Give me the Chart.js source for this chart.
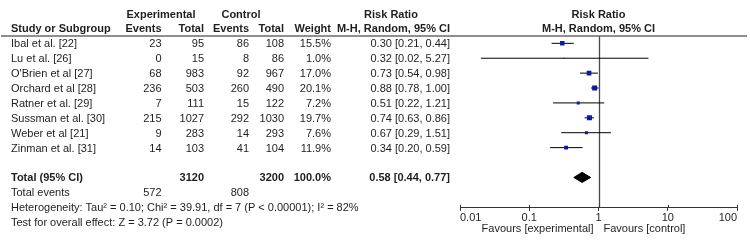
<!DOCTYPE html>
<html><head><meta charset="utf-8">
<script src="https://cdn.jsdelivr.net/npm/chart.js@4/dist/chart.umd.min.js"></script>
<style>html,body{margin:0;padding:0;background:#fff}#c{display:block}</style>
</head><body>
<canvas id="c" width="750" height="241"></canvas>
<script>
const studies = ["Ibal et al. [22]", "Lu et al. [26]", "O'Brien et al [27]", "Orchard et al [28]", "Ratner et al. [29]", "Sussman et al. [30]", "Weber et al [21]", "Zinman et al. [31]"];
const expEvents = [23, 0, 68, 236, 7, 215, 9, 14];
const expTotal = [95, 15, 983, 503, 111, 1027, 283, 103];
const ctrlEvents = [86, 8, 92, 260, 15, 292, 14, 41];
const ctrlTotal = [108, 86, 967, 490, 122, 1030, 293, 104];
const weights = [15.5, 1.0, 17.0, 20.1, 7.2, 19.7, 7.6, 11.9];
const rr = [0.30, 0.32, 0.73, 0.88, 0.51, 0.74, 0.67, 0.34];
const rrLow = [0.21, 0.02, 0.54, 0.78, 0.22, 0.63, 0.29, 0.20];
const rrHigh = [0.44, 5.27, 0.98, 1.00, 1.21, 0.86, 1.51, 0.59];
const totalExp = 3120, totalCtrl = 3200, totalWeight = 100.0;
const totalEventsExp = 572, totalEventsCtrl = 808;
const pooled = 0.58, pooledLow = 0.44, pooledHigh = 0.77;
const xTicks = [0.01, 0.1, 1, 10, 100];
const xTickLabels = ["0.01", "0.1", "1", "10", "100"];
const heterogeneityText = "Heterogeneity: Tau\u00B2 = 0.10; Chi\u00B2 = 39.91, df = 7 (P < 0.00001); I\u00B2 = 82%";
const overallText = "Test for overall effect: Z = 3.72 (P = 0.0002)";

const FONT = "'Liberation Sans', Arial, sans-serif";
const TXT = "#1e1e1e";
const TOTAL_ROW = studies.length + 1;
const Y_MIN = -2.64, Y_MAX = 11.04;
const NULL_EFFECT = 1;
const f2 = v => v.toFixed(2);
const ciText = (e, l, h) => f2(e) + " [" + f2(l) + ", " + f2(h) + "]";

const common = {xAxisID: 'x', yAxisID: 'y', clip: 0};
const datasets = [];
studies.forEach((s, i) => {
  datasets.push(Object.assign({type: 'line', data: [{x: rrLow[i], y: i}, {x: rrHigh[i], y: i}],
    borderColor: '#000', borderWidth: 1, pointRadius: 0, fill: false, order: 2}, common));
});
datasets.push(Object.assign({type: 'scatter', data: rr.map((v, i) => ({x: v, y: i})),
  pointStyle: 'rect', pointRadius: weights.map(w => 0.8 * Math.sqrt(w)),
  backgroundColor: '#0a1c9e', borderWidth: 0, order: 1}, common));
const dh = 0.34;
datasets.push(Object.assign({type: 'line', data: [
  {x: pooledLow, y: TOTAL_ROW}, {x: pooled, y: TOTAL_ROW - dh}, {x: pooledHigh, y: TOTAL_ROW},
  {x: pooled, y: TOTAL_ROW + dh}, {x: pooledLow, y: TOTAL_ROW}],
  borderColor: '#000', borderWidth: 1, backgroundColor: '#000', fill: 'shape', pointRadius: 0, order: 0}, common));

const nullLinePlugin = {
  id: 'nullLine',
  beforeDatasetsDraw(chart) {
    const ctx = chart.ctx, ys = chart.scales.y, xs = chart.scales.x;
    const px = Math.round(xs.getPixelForValue(NULL_EFFECT)) + 0.5;
    ctx.save();
    ctx.strokeStyle = '#4a4a4a'; ctx.lineWidth = 1.3;
    ctx.beginPath(); ctx.moveTo(px, ys.getPixelForValue(-0.5)); ctx.lineTo(px, ys.getPixelForValue(Y_MAX)); ctx.stroke();
    ctx.restore();
  }
};

const textPlugin = {
  id: 'tableText',
  afterDraw(chart) {
    const ctx = chart.ctx, ys = chart.scales.y, xs = chart.scales.x;
    const ry = r => ys.getPixelForValue(r) + 1;
    const put = (t, x, y, align, bold) => {
      ctx.font = (bold ? 'bold ' : '') + '11px ' + FONT;
      ctx.textAlign = align; ctx.textBaseline = 'middle'; ctx.fillStyle = TXT;
      ctx.fillText(t, x, y);
    };
    ctx.save();
    ctx.strokeStyle = '#6a6a6a'; ctx.lineWidth = 1.5;
    const hy = ys.getPixelForValue(-0.5);
    ctx.beginPath(); ctx.moveTo(1, hy); ctx.lineTo(747, hy); ctx.stroke();
    put("Experimental", 161, ry(-2), 'center', true);
    put("Control", 241, ry(-2), 'center', true);
    put("Risk Ratio", 391, ry(-2), 'center', true);
    put("Risk Ratio", xs.getPixelForValue(NULL_EFFECT), ry(-2), 'center', true);
    put("Study or Subgroup", 11, ry(-1), 'left', true);
    put("Events", 161.5, ry(-1), 'right', true);
    put("Total", 204, ry(-1), 'right', true);
    put("Events", 249, ry(-1), 'right', true);
    put("Total", 284, ry(-1), 'right', true);
    put("Weight", 331, ry(-1), 'right', true);
    put("M-H, Random, 95% CI", 450, ry(-1), 'right', true);
    put("M-H, Random, 95% CI", xs.getPixelForValue(NULL_EFFECT), ry(-1), 'center', true);
    studies.forEach((s, i) => {
      const y = ry(i);
      put(s, 11, y, 'left');
      put(String(expEvents[i]), 161.5, y, 'right');
      put(String(expTotal[i]), 204, y, 'right');
      put(String(ctrlEvents[i]), 249, y, 'right');
      put(String(ctrlTotal[i]), 284, y, 'right');
      put(weights[i].toFixed(1) + "%", 331, y, 'right');
      put(ciText(rr[i], rrLow[i], rrHigh[i]), 450, y, 'right');
    });
    const ty = ry(TOTAL_ROW);
    put("Total (95% CI)", 11, ty, 'left', true);
    put(String(totalExp), 204, ty, 'right', true);
    put(String(totalCtrl), 284, ty, 'right', true);
    put(totalWeight.toFixed(1) + "%", 331, ty, 'right', true);
    put(ciText(pooled, pooledLow, pooledHigh), 450, ty, 'right', true);
    put("Total events", 11, ry(TOTAL_ROW + 1), 'left');
    put(String(totalEventsExp), 161.5, ry(TOTAL_ROW + 1), 'right');
    put(String(totalEventsCtrl), 249, ry(TOTAL_ROW + 1), 'right');
    put(heterogeneityText, 11, ry(TOTAL_ROW + 2), 'left');
    put(overallText, 11, ry(TOTAL_ROW + 3), 'left');
    const by = chart.chartArea.bottom;
    ctx.strokeStyle = '#333'; ctx.lineWidth = 1;
    xTicks.forEach(v => {
      const px = Math.round(xs.getPixelForValue(v)) + 0.5;
      ctx.beginPath(); ctx.moveTo(px, by - 3); ctx.lineTo(px, by); ctx.stroke();
    });
    const one = xs.getPixelForValue(NULL_EFFECT);
    put("Favours [experimental]", one - 5, 229, 'right');
    put("Favours [control]", one + 5, 229, 'left');
    ctx.restore();
  }
};

new Chart(document.getElementById('c'), {
  type: 'scatter',
  data: {datasets},
  options: {
    responsive: false, animation: false, devicePixelRatio: 1,
    layout: {padding: {left: 460, right: 13, top: 0, bottom: 15}},
    plugins: {legend: {display: false}, tooltip: {enabled: false}},
    scales: {
      x: {
        type: 'logarithmic', min: 0.01, max: 100,
        afterBuildTicks: s => { s.ticks = xTicks.map(v => ({value: v})); },
        ticks: {
          autoSkip: false, maxRotation: 0, align: 'inner', padding: 1, color: TXT,
          font: {family: FONT, size: 11},
          callback: (v, i) => xTickLabels[i]
        },
        grid: {drawOnChartArea: false, drawTicks: true, tickLength: 3, color: '#333'},
        border: {display: true, color: '#333', width: 1}
      },
      y: {type: 'linear', reverse: true, min: Y_MIN, max: Y_MAX, display: false}
    }
  },
  plugins: [nullLinePlugin, textPlugin]
});
</script>
</body></html>
